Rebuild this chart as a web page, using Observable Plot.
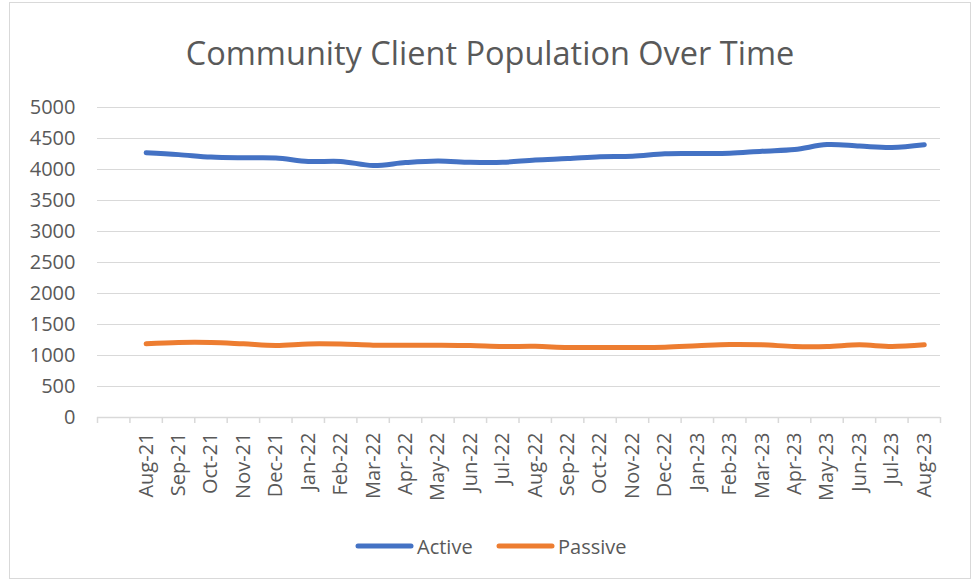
<!DOCTYPE html>
<html><head><meta charset="utf-8">
<script src="https://cdn.jsdelivr.net/npm/d3@7"></script>
<script src="https://cdn.jsdelivr.net/npm/@observablehq/plot@0.6"></script>
<style>
body{margin:0;background:#fff;}
#wrap{position:relative;width:974px;height:582px;font-family:"Open Sans",sans-serif;color:#595959;overflow:hidden}
#frame{position:absolute;left:9px;top:2px;width:962px;height:577px;border:1px solid #d9d9d9;box-sizing:border-box}
#title{position:absolute;left:9px;width:962px;top:31px;text-align:center;font-size:32.5px;line-height:44px;white-space:nowrap}
#chart{position:absolute;left:0;top:80px}
.leg{position:absolute;top:533px;height:26px;display:flex;align-items:center;font-size:20px;white-space:nowrap}
</style></head>
<body>
<div id="wrap">
  <div id="frame"></div>
  <div id="title">Community Client Population Over Time</div>
  <div id="chart"></div>
  <div id="legend"></div>
</div>
<script>
const months = ["Aug-21","Sep-21","Oct-21","Nov-21","Dec-21","Jan-22","Feb-22","Mar-22","Apr-22","May-22","Jun-22","Jul-22","Aug-22","Sep-22","Oct-22","Nov-22","Dec-22","Jan-23","Feb-23","Mar-23","Apr-23","May-23","Jun-23","Jul-23","Aug-23"];
const active = [4270,4240,4200,4188,4185,4130,4130,4065,4112,4138,4116,4116,4155,4176,4205,4212,4254,4258,4262,4296,4322,4402,4378,4355,4398];
const passive = [1188,1210,1210,1188,1163,1186,1184,1167,1167,1166,1161,1146,1148,1130,1129,1129,1134,1156,1177,1172,1146,1146,1172,1146,1172];
const yTicks = [0,500,1000,1500,2000,2500,3000,3500,4000,4500,5000];
const seriesNames = ["Active","Passive"];
const seriesColors = ["#4472C4","#ED7D31"];

// one empty category slot precedes the first month on the category axis
const slots = months.length + 1;
const rows = months.map((m, i) => ({month: m, pos: i + 1.5, active: active[i], passive: passive[i]}));

const chart = Plot.plot({
  width: 974,
  height: 427,
  marginLeft: 97,
  marginRight: 34,
  marginTop: 27,
  marginBottom: 90,
  style: {fontFamily: '"Open Sans", sans-serif', color: "#595959", background: "transparent"},
  x: {type: "linear", domain: [0, slots], label: null},
  y: {domain: [0, 5000], label: null},
  marks: [
    Plot.gridY(yTicks.filter(d => d > 0), {stroke: "#d9d9d9", strokeOpacity: 1, strokeWidth: 1}),
    Plot.ruleY([0], {stroke: "#d9d9d9", strokeWidth: 1.5}),
    Plot.axisY({ticks: yTicks, tickSize: 0, tickPadding: 22, fontSize: 20, label: null, tickFormat: d => String(d)}),
    Plot.axisX({ticks: d3.range(0, slots + 1), tickSize: 6, stroke: "#d9d9d9", strokeWidth: 1.5, label: null, tickFormat: () => ""}),
    Plot.axisX({ticks: rows.map(r => r.pos), tickSize: 0, tickPadding: 15, tickRotate: -90, fontSize: 20, label: null,
      tickFormat: p => months[Math.round(p - 1.5)]}),
    Plot.line(rows, {x: "pos", y: "active", stroke: seriesColors[0], strokeWidth: 5, strokeLinecap: "round", strokeLinejoin: "round", curve: "catmull-rom"}),
    Plot.line(rows, {x: "pos", y: "passive", stroke: seriesColors[1], strokeWidth: 5, strokeLinecap: "round", strokeLinejoin: "round", curve: "catmull-rom"})
  ]
});
document.getElementById("chart").appendChild(chart);

const legend = document.getElementById("legend");
const legPos = [355, 496];
seriesNames.forEach((name, i) => {
  const d = document.createElement("div");
  d.className = "leg";
  d.style.left = legPos[i] + "px";
  d.innerHTML = `<svg width="60" height="10" style="margin-right:2px"><line x1="3" y1="5" x2="56" y2="5" stroke="${seriesColors[i]}" stroke-width="5" stroke-linecap="round"/></svg><span>${name}</span>`;
  legend.appendChild(d);
});
</script>
</body></html>
